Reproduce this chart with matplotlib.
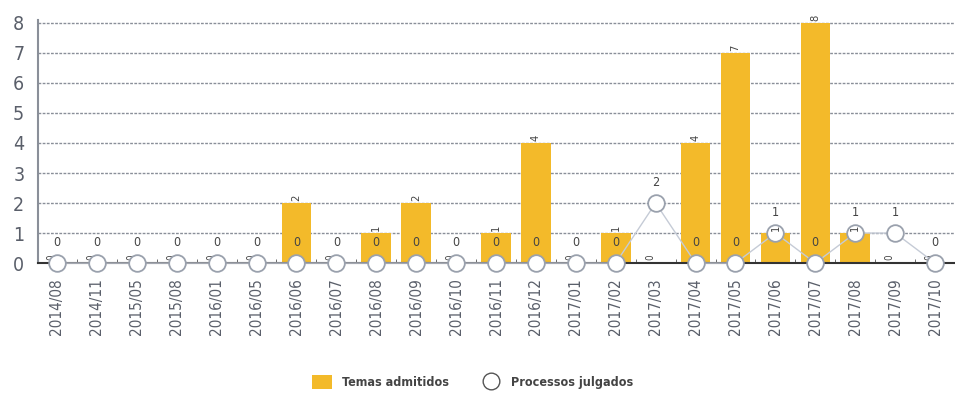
import numpy as np
import matplotlib.pyplot as plt
from matplotlib.lines import Line2D
from matplotlib.patches import Patch

meses = ["2014/08", "2014/11", "2015/05", "2015/08", "2016/01", "2016/05",
         "2016/06", "2016/07", "2016/08", "2016/09", "2016/10", "2016/11",
         "2016/12", "2017/01", "2017/02", "2017/03", "2017/04", "2017/05",
         "2017/06", "2017/07", "2017/08", "2017/09", "2017/10"]
temas_admitidos = [0, 0, 0, 0, 0, 0, 2, 0, 1, 2, 0, 1, 4, 0, 1, 0, 4, 7, 1, 8, 1, 0, 0]
processos_julgados = [0, 0, 0, 0, 0, 0, 0, 0, 0, 0, 0, 0, 0, 0, 0, 2, 0, 0, 1, 0, 1, 1, 0]

amarelo = "#F3BA2A"
cinza = "#5a5f6a"

plt.rcParams["font.family"] = ["DejaVu Sans"]
plt.rcParams["font.stretch"] = "condensed"

fig = plt.figure(figsize=(9.55, 3.98), dpi=100)
ax = fig.add_axes([0.04, 0.339, 0.96, 0.611])

x = np.arange(len(meses))

ax.bar(x, temas_admitidos, width=0.74, color=amarelo, zorder=2)
ax.plot(x, processos_julgados, color="#c5cbd6", lw=1.0, zorder=3,
        marker="o", markersize=12, markerfacecolor="white",
        markeredgecolor="#9aa1ad", markeredgewidth=1.3, clip_on=False)

# rótulos das barras (verticais) e da linha (horizontais)
for xi, v in zip(x, temas_admitidos):
    if v == 0:
        # o zero fica quase escondido atrás do marcador
        ax.text(xi - 0.14, 0.2, str(v), rotation=90, ha="center", va="center",
                fontsize=7, color="#444", zorder=2.5)
    else:
        ax.text(xi, v + 0.06, str(v), rotation=90, ha="center", va="bottom",
                fontsize=8, color="#444", zorder=4)
for xi, v in zip(x, processos_julgados):
    ax.text(xi, v + 0.47, str(v), ha="center", va="bottom",
            fontsize=9, color="#444", zorder=4)

ax.set_xlim(-0.47, 22.25)
ax.set_ylim(0, 8.1)
ax.set_yticks(range(0, 9))
ax.yaxis.grid(True, linestyle=(0, (2, 1)), color="#8a8f99", lw=1.0, zorder=0)
ax.set_axisbelow(True)

ax.set_xticks(x)
ax.set_xticklabels(meses, rotation=90, fontsize=11, color=cinza)
ax.set_xticks(x + 0.5, minor=True)
ax.tick_params(axis="x", which="major", length=0, pad=11)
ax.tick_params(axis="x", which="minor", direction="in", length=3, color="#555")
ax.tick_params(axis="y", length=0, labelsize=14, colors=cinza, pad=10)

for s in ["top", "right"]:
    ax.spines[s].set_visible(False)
ax.spines["left"].set_color("#8a8f99")
ax.spines["left"].set_linewidth(1.5)
ax.spines["bottom"].set_color("#333")
ax.spines["bottom"].set_linewidth(1.5)

handles = [Patch(facecolor=amarelo, edgecolor="none"),
           Line2D([], [], marker="o", linestyle="none", markersize=12,
                  markerfacecolor="white", markeredgecolor="#555", markeredgewidth=1)]
fig.legend(handles, ["Temas admitidos", "Processos julgados"],
           loc="center", bbox_to_anchor=(0.495, 0.04), ncol=2, frameon=False,
           prop={"size": 9, "weight": "bold"}, labelcolor="#444",
           handlelength=1.6, handleheight=1.3, columnspacing=2.6)

fig.savefig("out.png", dpi=100)
